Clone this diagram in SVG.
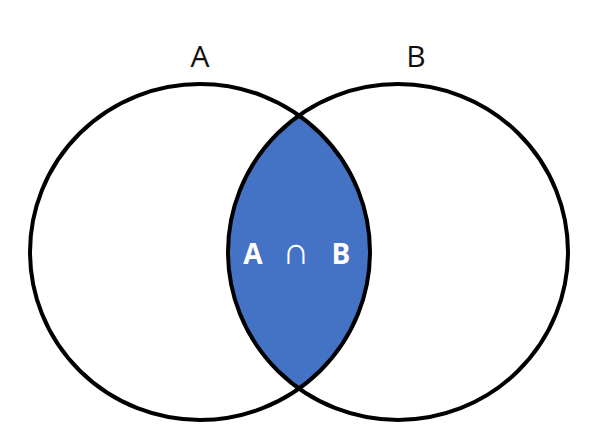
<svg xmlns="http://www.w3.org/2000/svg" width="591" height="447" viewBox="0 0 591 447">
<style>
.c{fill:none;stroke:#000;stroke-width:4}
.lbl{font-family:"Open Sans","Liberation Sans",sans-serif;font-size:30px;fill:#111}
.in{font-family:"Open Sans","Liberation Sans",sans-serif;font-size:28px;font-weight:bold;fill:#fff}
.cap{font-size:38px;font-weight:normal}
</style>
<defs>
<clipPath id="clipA"><ellipse cx="200" cy="252" rx="170" ry="168"/></clipPath>
</defs>
<rect width="591" height="447" fill="#fff"/>
<g id="intersection">
<ellipse cx="398" cy="252" rx="170" ry="168" fill="#4472C4" clip-path="url(#clipA)"/>
<text class="in" y="264" text-anchor="middle"><tspan x="253">A</tspan><tspan x="296" class="cap">∩</tspan><tspan x="341">B</tspan></text>
</g>
<g id="setA">
<ellipse class="c" cx="200" cy="252" rx="170" ry="168"/>
<text class="lbl" x="200" y="67" text-anchor="middle">A</text>
</g>
<g id="setB">
<ellipse class="c" cx="398" cy="252" rx="170" ry="168"/>
<text class="lbl" x="416" y="67" text-anchor="middle">B</text>
</g>
</svg>
